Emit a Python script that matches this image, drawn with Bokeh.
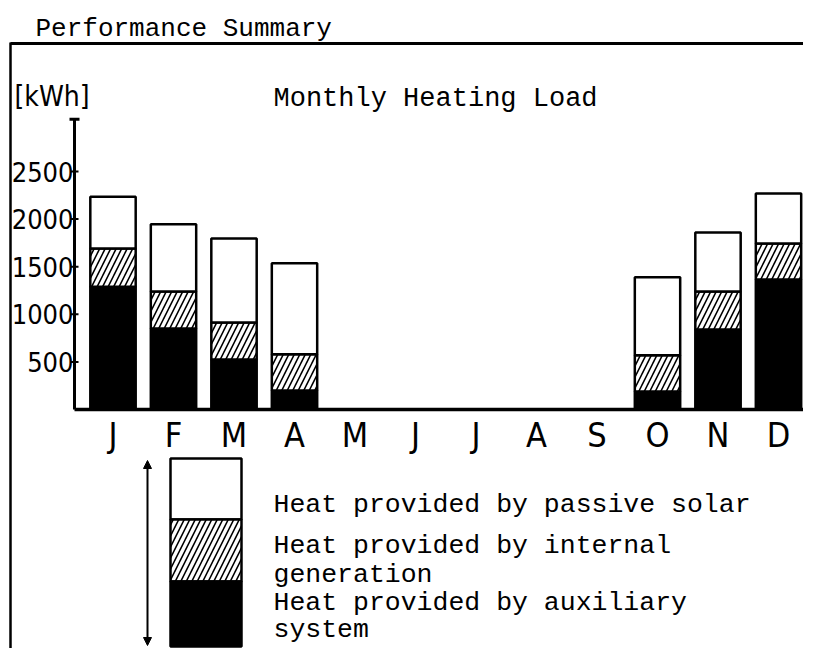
import numpy as np
from bokeh.plotting import figure
from bokeh.models import Range1d, ColumnDataSource, Arrow, NormalHead
from bokeh.core.properties import value
from bokeh.embed import file_html
from bokeh.resources import INLINE

# ---------------- data ----------------
months = ["J", "F", "M", "A", "M", "J", "J", "A", "S", "O", "N", "D"]
auxiliary = [1290, 850, 525, 200, 0, 0, 0, 0, 0, 190, 840, 1365]
internal = [400, 390, 390, 380, 0, 0, 0, 0, 0, 380, 400, 380]
passive_solar = [545, 705, 880, 955, 0, 0, 0, 0, 0, 820, 620, 525]
y_ticks = [500, 1000, 1500, 2000, 2500]
y_axis_top = 3050
y_unit = "[kWh]"
page_title = "Performance Summary"
chart_title = "Monthly Heating Load"
legend_lines = [
    "Heat provided by passive solar",
    "Heat provided by internal",
    "generation",
    "Heat provided by auxiliary",
    "system",
]

# ---------------- layout (pixel geometry of the picture) ----------------
W, H = 803, 648
X_C0 = 112.5      # px of first month centre
X_STEP = 60.5     # px per month
Y_BASE = 409.0    # px of value 0
Y_SCALE = 0.0952  # px per kWh


def fx(px):
    """picture pixel x -> data x"""
    return (px - X_C0) / X_STEP


def fy(py):
    """picture pixel y -> data y"""
    return (Y_BASE - py) / Y_SCALE


MONO = value("Liberation Mono")
NARROW = value("'Liberation Sans Narrow', 'DejaVu Sans Condensed', 'Roboto Condensed', 'Noto Sans', sans-serif")

p = figure(width=W, height=H, output_backend="svg", toolbar_location=None,
           x_axis_type=None, y_axis_type=None, min_border=0,
           x_range=Range1d(fx(0), fx(W)),
           y_range=Range1d(fy(H), fy(0)),
           outline_line_color=None, background_fill_color="white",
           border_fill_color="white")

# ---------------- bars ----------------
aux = np.array(auxiliary, dtype=float)
inn = np.array(internal, dtype=float)
sol = np.array(passive_solar, dtype=float)
tot = aux + inn + sol
keep = tot > 0
idx = np.arange(len(months))[keep]
src = ColumnDataSource(dict(
    x=idx,
    aux_top=aux[keep],
    int_top=(aux + inn)[keep],
    sol_top=tot[keep],
))
BW = 0.75
p.vbar(x="x", bottom=0, top="aux_top", width=BW, source=src,
       fill_color="black", line_color="black", line_width=2.5)
p.vbar(x="x", bottom="aux_top", top="int_top", width=BW, source=src,
       fill_color="white", hatch_pattern="/", hatch_color="black",
       hatch_weight=1.6, hatch_scale=11, line_color="black", line_width=2.5)
p.vbar(x="x", bottom="int_top", top="sol_top", width=BW, source=src,
       fill_color="white", line_color="black", line_width=2.5)

# ---------------- axes drawn by hand ----------------
ax_x = fx(74)
p.segment(x0=[ax_x], y0=[0], x1=[ax_x], y1=[y_axis_top],
          line_color="black", line_width=3)
p.segment(x0=[fx(69)], y0=[y_axis_top], x1=[fx(79)], y1=[y_axis_top],
          line_color="black", line_width=3)
p.segment(x0=[fx(74)], y0=[0], x1=[fx(830)], y1=[0],
          line_color="black", line_width=3.5)

tsrc = ColumnDataSource(dict(
    y=y_ticks,
    x0=[fx(70)] * len(y_ticks),
    x1=[fx(78)] * len(y_ticks),
    xl=[fx(73)] * len(y_ticks),
    txt=[str(t) for t in y_ticks],
))
p.segment(x0="x0", y0="y", x1="x1", y1="y", source=tsrc,
          line_color="black", line_width=2)
p.text(x="xl", y="y", text="txt", source=tsrc, text_font=NARROW,
       text_font_size="27px", text_align="right", text_baseline="middle",
       text_color="black")

msrc = ColumnDataSource(dict(x=list(range(len(months))),
                             y=[fy(434)] * len(months), txt=months))
p.text(x="x", y="y", text="txt", source=msrc, text_font=NARROW,
       text_font_size="34px", text_align="center", text_baseline="middle",
       text_color="black")

# ---------------- frame lines ----------------
p.segment(x0=[fx(10)], y0=[fy(43)], x1=[fx(830)], y1=[fy(43)],
          line_color="black", line_width=3)
p.segment(x0=[fx(10)], y0=[fy(42)], x1=[fx(10)], y1=[fy(670)],
          line_color="black", line_width=2.5)

# ---------------- titles ----------------
p.text(x=[fx(35)], y=[fy(28)], text=[page_title], text_font=MONO,
       text_font_size="26px", text_align="left", text_baseline="alphabetic",
       text_color="black")
p.text(x=[fx(273)], y=[fy(98)], text=[chart_title], text_font=MONO,
       text_font_size="27px", text_align="left", text_baseline="alphabetic",
       text_color="black")
p.text(x=[fx(14)], y=[fy(96)], text=[y_unit], text_font=NARROW,
       text_font_size="28px", text_align="left", text_baseline="middle",
       text_color="black")

# ---------------- legend ----------------
lx0, lx1 = fx(170), fx(241)
p.quad(left=[lx0], right=[lx1], top=[fy(458)], bottom=[fy(519)],
       fill_color="white", line_color="black", line_width=2.5)
p.quad(left=[lx0], right=[lx1], top=[fy(519)], bottom=[fy(581)],
       fill_color="white", hatch_pattern="/", hatch_color="black",
       hatch_weight=1.6, hatch_scale=11, line_color="black", line_width=2.5)
p.quad(left=[lx0], right=[lx1], top=[fy(581)], bottom=[fy(646)],
       fill_color="black", line_color="black", line_width=2.5)
p.add_layout(Arrow(x_start=fx(147), y_start=fy(645), x_end=fx(147), y_end=fy(460),
                   line_color="black", line_width=2,
                   start=NormalHead(size=8, fill_color="black", line_color="black"),
                   end=NormalHead(size=8, fill_color="black", line_color="black")))

legend_baselines = [504, 545, 574, 602, 629]
lsrc = ColumnDataSource(dict(x=[fx(273)] * len(legend_lines),
                             y=[fy(b) for b in legend_baselines],
                             txt=legend_lines))
p.text(x="x", y="y", text="txt", source=lsrc, text_font=MONO,
       text_font_size="26.5px", text_align="left", text_baseline="alphabetic",
       text_color="black")

open("out.html", "w").write(file_html(p, INLINE))
